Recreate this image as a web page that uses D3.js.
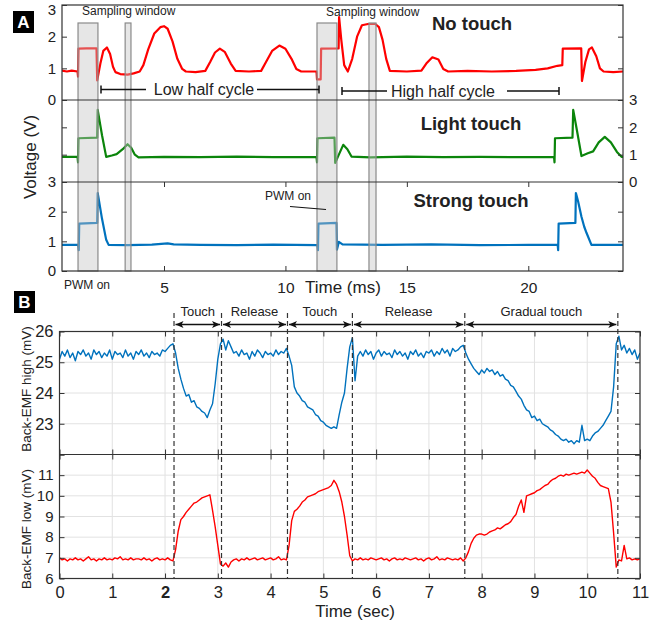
<!DOCTYPE html>
<html><head><meta charset="utf-8">
<script src="https://cdn.jsdelivr.net/npm/d3@7"></script>
<style>
body{margin:0;background:#fff;}
text{font-family:"Liberation Sans",Arial,Helvetica,sans-serif;fill:#222;}
</style></head>
<body><svg id="c" width="668" height="628"></svg>
<script>
// ---------------- DATA ----------------
// Panel A: voltage traces, [time (ms), voltage (V)]
const noTouchTrace = [[0.8,0.93],[1.0,0.9],[1.2,0.93],[1.44,0.9],[1.46,0.74],[1.48,1.62],[1.8,1.63],[2.22,1.63],[2.25,0.62],[2.38,1.15],[2.5,1.55],[2.65,1.66],[2.78,1.45],[2.9,1.05],[3.0,0.88],[3.2,0.82],[3.5,0.8],[3.75,0.84],[4.0,0.9],[4.15,1.1],[4.35,1.6],[4.6,2.1],[4.85,2.3],[5.0,2.33],[5.15,2.25],[5.35,1.85],[5.55,1.3],[5.75,0.98],[5.9,0.9],[6.3,0.88],[6.7,0.92],[6.9,1.2],[7.1,1.5],[7.3,1.62],[7.5,1.52],[7.75,1.15],[7.95,0.92],[8.5,0.9],[9.0,0.92],[9.2,1.2],[9.45,1.55],[9.75,1.72],[10.0,1.62],[10.25,1.3],[10.45,0.98],[10.65,0.9],[11.0,0.9],[11.28,0.9],[11.3,0.65],[11.45,0.65],[11.47,1.62],[12.19,1.63],[12.21,2.62],[12.3,1.9],[12.42,1.1],[12.57,0.9],[12.75,1.3],[12.95,2.0],[13.15,2.36],[13.4,2.4],[13.7,2.4],[13.85,2.3],[14.0,1.9],[14.15,1.3],[14.3,0.92],[15.0,0.9],[15.6,0.93],[15.8,1.15],[16.05,1.35],[16.3,1.28],[16.5,0.98],[16.7,0.9],[17.5,0.92],[18.5,0.9],[19.5,0.92],[20.3,0.95],[20.8,1.0],[21.2,1.08],[21.4,1.1],[21.42,1.62],[22.18,1.63],[22.21,0.6],[22.35,1.2],[22.5,1.6],[22.62,1.66],[22.8,1.38],[22.95,1.0],[23.1,0.9],[23.5,0.88],[23.9,0.9]];
const lightTouchTrace = [[0.8,0.92],[1.44,0.92],[1.46,0.72],[1.48,1.6],[2.25,1.62],[2.27,2.64],[2.45,1.7],[2.62,0.92],[2.85,0.97],[3.05,1.02],[3.3,1.2],[3.5,1.38],[3.65,1.25],[3.8,1.0],[3.95,0.9],[5,0.92],[6.5,0.91],[8,0.93],[9.5,0.91],[11.28,0.92],[11.3,0.72],[11.32,1.6],[12.02,1.62],[12.05,0.7],[12.2,1.0],[12.38,1.36],[12.55,1.2],[12.72,0.93],[13.5,0.9],[15,0.93],[16.5,0.91],[18,0.92],[19.5,0.91],[21.06,0.92],[21.08,0.72],[21.1,1.6],[21.82,1.62],[21.85,2.64],[22.0,1.9],[22.19,0.95],[22.45,1.05],[22.67,1.12],[22.9,1.45],[23.15,1.65],[23.4,1.45],[23.65,1.1],[23.84,0.92],[23.9,0.92]];
const strongTouchTrace = [[0.8,0.88],[1.47,0.88],[1.49,0.7],[1.51,1.6],[2.25,1.62],[2.27,2.63],[2.45,1.75],[2.62,1.05],[2.72,0.88],[3.5,0.87],[4.5,0.89],[5.15,0.93],[5.4,0.9],[6.5,0.88],[8,0.87],[9.5,0.89],[11.32,0.87],[11.34,0.7],[11.36,1.6],[12.1,1.62],[12.12,0.72],[12.2,0.98],[12.35,0.9],[14,0.88],[16,0.9],[18,0.87],[20,0.88],[21.21,0.88],[21.23,0.7],[21.25,1.6],[21.94,1.62],[21.96,2.63],[22.05,2.35],[22.19,1.83],[22.3,1.5],[22.4,1.28],[22.6,0.88],[23.9,0.88]];
const samplingWindows = [[1.46,2.28],[3.40,3.64],[11.30,12.12],[13.44,13.73]];
const msTicks = [5,10,15,20];
const voltTicks = [0,1,2,3];
const touchLabels = ["No touch","Light touch","Strong touch"];

// Panel B: back-EMF traces (mV), sampled every 0.05 s from 0 to 11 s
const sampleStep = 0.05;
const backEmfHigh = [
 25.1,25.35,25.2,25.4,25.15,25.3,25.05,25.35,25.25,25.4,
 25.2,25.3,25.1,25.4,25.25,25.35,25.15,25.3,25.2,25.4,
 25.1,25.35,25.25,25.3,25.15,25.4,25.2,25.3,25.1,25.35,
 25.25,25.4,25.2,25.3,25.15,25.35,25.25,25.3,25.2,25.4,
 25.35,25.45,25.55,25.6,25.3,24.8,24.45,24.15,23.9,23.95,
 23.7,23.75,23.55,23.5,23.4,23.35,23.2,23.45,23.65,24.3,
 25.1,25.6,25.75,25.4,25.7,25.5,25.3,25.35,25.2,25.4,
 25.25,25.3,25.1,25.35,25.2,25.4,25.3,25.15,25.35,25.25,
 25.3,25.2,25.4,25.25,25.35,25.3,25.45,25.2,24.9,24.2,
 24.0,23.9,23.75,23.7,23.55,23.5,23.45,23.3,23.25,23.1,
 23.05,22.95,22.9,22.85,22.9,22.85,23.3,23.7,24.0,24.8,
 25.5,25.8,24.4,25.2,25.35,25.2,25.4,25.25,25.35,25.1,
 25.3,25.4,25.2,25.35,25.25,25.3,25.15,25.4,25.25,25.35,
 25.2,25.3,25.1,25.35,25.25,25.4,25.2,25.3,25.15,25.35,
 25.3,25.4,25.2,25.35,25.25,25.45,25.3,25.4,25.2,25.45,
 25.35,25.4,25.5,25.55,25.3,25.1,24.95,24.8,24.7,24.6,
 24.75,24.65,24.8,24.7,24.75,24.6,24.7,24.55,24.6,24.45,
 24.4,24.25,24.2,24.05,23.9,23.8,23.6,23.45,23.4,23.2,
 23.25,23.1,23.15,23.0,22.95,22.9,22.8,22.75,22.65,22.6,
 22.5,22.45,22.5,22.4,22.45,22.35,22.45,22.4,22.95,22.45,
 22.5,22.45,22.6,22.7,22.75,22.85,22.95,23.1,23.25,23.4,
 24.2,25.6,25.85,25.4,25.55,25.3,25.45,25.25,25.4,25.1,
 25.3];
const backEmfLow = [
 7.0,6.9,6.95,6.85,6.95,6.9,7.0,6.9,6.95,6.85,
 6.95,7.05,6.9,6.95,6.85,6.95,6.9,7.0,6.9,6.95,
 6.9,7.0,6.95,7.05,6.9,6.95,6.9,7.0,6.9,6.95,
 6.95,6.9,7.0,6.9,6.95,6.85,6.95,7.0,6.9,6.95,
 6.9,7.0,6.9,6.85,7.4,8.3,8.85,9.0,9.2,9.35,
 9.5,9.65,9.7,9.8,9.9,9.95,10.0,10.05,9.3,8.5,
 7.6,6.7,6.6,6.75,6.55,6.8,6.9,6.95,6.85,6.95,
 6.9,7.0,6.9,6.95,7.0,6.9,6.95,7.0,6.9,6.95,
 7.0,6.9,6.95,7.05,6.9,6.95,6.9,7.6,8.8,9.25,
 9.35,9.5,9.7,9.8,9.95,10.0,10.05,10.1,10.2,10.25,
 10.3,10.35,10.4,10.5,10.75,10.55,10.2,9.7,9.0,8.1,
 7.1,6.85,6.95,6.9,7.0,6.9,6.95,6.9,7.0,6.95,
 6.9,6.95,7.0,6.9,6.95,6.85,6.95,7.0,6.9,6.95,
 6.9,7.0,6.95,6.9,6.95,7.0,6.9,6.95,6.85,6.95,
 7.0,6.9,6.95,7.05,6.9,6.95,6.9,7.0,6.95,6.9,
 6.95,6.9,7.0,6.85,7.0,7.3,7.7,7.95,8.1,8.15,
 8.15,8.1,8.15,8.25,8.3,8.35,8.45,8.4,8.5,8.6,
 8.65,8.75,8.95,9.1,9.5,9.8,9.2,10.0,10.05,10.1,
 10.15,10.25,10.3,10.4,10.5,10.55,10.7,10.8,10.85,10.95,
 11.0,10.95,11.05,11.0,11.05,11.1,11.05,11.1,11.15,11.1,
 11.25,11.1,10.95,10.85,10.65,10.5,10.45,10.4,10.35,9.7,
 8.2,6.55,6.9,6.85,7.6,6.95,7.0,6.9,6.95,6.9,
 6.95];
const eventTimes = [2.17,3.07,4.32,5.55,7.68,10.58];
const phaseLabels = ["Touch","Release","Touch","Release","Gradual touch"];
const secTicks = [0,1,2,3,4,5,6,7,8,9,10,11];
const highTicks = [22,23,24,25,26];
const lowTicks = [6,7,8,9,10,11,12];

// ---------------- DRAW ----------------
const svg = d3.select('#c');
const AX = '#333';
const defs = svg.append('defs');

function styleAxis(g, size) {
  g.select('.domain').remove();
  g.selectAll('.tick line').attr('stroke', AX).attr('stroke-width', 1);
  g.selectAll('.tick text').attr('fill', '#222').attr('font-size', size)
    .attr('font-family', '"Liberation Sans",Arial,sans-serif');
}

// ===== Panel A =====
const A = {l:62, r:623, t:5, b:271};
const xA = d3.scaleLinear().domain([0.8, 23.9]).range([A.l, A.r]);
const subs = [
  {y: d3.scaleLinear().domain([0,3]).range([100,5]), data: noTouchTrace, color:'#ff0000', leftLab:true, rightLab:false, lab:[472,30]},
  {y: d3.scaleLinear().domain([0,3]).range([182,100]), data: lightTouchTrace, color:'#0b850b', leftLab:false, rightLab:true, lab:[471,130]},
  {y: d3.scaleLinear().domain([0,3]).range([271,182]), data: strongTouchTrace, color:'#0072bd', leftLab:true, rightLab:false, lab:[471,207]},
];
defs.append('clipPath').attr('id','clipA').append('rect')
  .attr('x',A.l).attr('y',A.t).attr('width',A.r-A.l).attr('height',A.b-A.t);

subs.forEach((s,i) => {
  const line = d3.line().x(d=>xA(d[0])).y(d=>s.y(d[1]));
  svg.append('path').datum(s.data).attr('d', line).attr('fill','none')
    .attr('stroke', s.color).attr('stroke-width', 2.2).attr('stroke-linejoin','round')
    .attr('clip-path','url(#clipA)');
  const gl = svg.append('g').attr('transform',`translate(${A.l},0)`)
    .call(d3.axisLeft(s.y).tickValues(voltTicks).tickSize(-5).tickPadding(6)
      .tickFormat(d => s.leftLab ? d : ''));
  styleAxis(gl, 15);
  const gr = svg.append('g').attr('transform',`translate(${A.r},0)`)
    .call(d3.axisRight(s.y).tickValues(voltTicks).tickSize(-5).tickPadding(6)
      .tickFormat(d => s.rightLab ? d : ''));
  styleAxis(gr, 15);
  if (i === 0) gl.selectAll('.tick text').filter(d => d === 3).attr('dy', '0.62em');
  svg.append('text').attr('x', s.lab[0]).attr('y', s.lab[1]).attr('text-anchor','middle')
    .attr('font-size', 18.5).attr('font-weight','bold').attr('fill','#111').text(touchLabels[i]);
});

const gxa1 = svg.append('g').attr('transform',`translate(0,${A.b})`)
  .call(d3.axisBottom(xA).tickValues(msTicks).tickSize(-5).tickPadding(11));
styleAxis(gxa1, 15.5);
const gxa2 = svg.append('g').attr('transform',`translate(0,182)`)
  .call(d3.axisTop(xA).tickValues(msTicks).tickSize(-5).tickFormat(''));
styleAxis(gxa2, 15);

svg.append('g').selectAll('rect').data(samplingWindows).join('rect')
  .attr('x', d=>xA(d[0])).attr('y', 23).attr('width', d=>xA(d[1])-xA(d[0])).attr('height', A.b-23)
  .attr('fill','#c4c4c4').attr('fill-opacity',0.42).attr('stroke','#8a8a8a').attr('stroke-width',1.2);

svg.append('rect').attr('x',A.l).attr('y',A.t).attr('width',A.r-A.l).attr('height',A.b-A.t)
  .attr('fill','none').attr('stroke',AX).attr('stroke-width',1.2);
[100,182].forEach(y => svg.append('line').attr('x1',A.l).attr('x2',A.r).attr('y1',y).attr('y2',y)
  .attr('stroke',AX).attr('stroke-width',1.2));

svg.append('text').attr('x',82).attr('y',15).attr('font-size',12).text('Sampling window');
svg.append('text').attr('x',326).attr('y',16).attr('font-size',12).text('Sampling window');
svg.append('text').attr('x',204).attr('y',95).attr('text-anchor','middle').attr('font-size',16).text('Low half cycle');
svg.append('text').attr('x',443).attr('y',97).attr('text-anchor','middle').attr('font-size',16).text('High half cycle');
function bracket(x1, x2, y) {
  const g = svg.append('g').attr('stroke','#111').attr('stroke-width',1.5);
  g.append('line').attr('x1',x1).attr('x2',x2).attr('y1',y).attr('y2',y);
  g.append('line').attr('x1',x1).attr('x2',x1).attr('y1',y-4).attr('y2',y+4);
}
bracket(101,146,89.5); bracket(319,257,89.5);
bracket(342,387,91); bracket(559,507,91);
svg.append('text').attr('x',265).attr('y',200).attr('font-size',12).text('PWM on');
svg.append('line').attr('x1',290).attr('y1',206.5).attr('x2',326).attr('y2',209.5).attr('stroke','#111').attr('stroke-width',1.2);
svg.append('text').attr('x',64).attr('y',289).attr('font-size',12).text('PWM on');
svg.append('text').attr('x',305).attr('y',293).attr('font-size',17).text('Time (ms)');
svg.append('text').attr('transform','translate(36,157) rotate(-90)').attr('text-anchor','middle')
  .attr('font-size',17).text('Voltage (V)');

function letter(x,y,t){
  svg.append('rect').attr('x',x).attr('y',y).attr('width',21).attr('height',22).attr('fill','#000');
  svg.append('text').attr('x',x+10.5).attr('y',y+17).attr('text-anchor','middle').attr('font-size',17)
    .attr('font-weight','bold').style('fill','#fff').text(t);
}
letter(13,11,'A'); letter(14,291,'B');

// ===== Panel B =====
const B = {l:59.5, r:640, t:331.5, m:454.5, b:578.5};
const xB = d3.scaleLinear().domain([0,11]).range([B.l, B.r]);
const yH = d3.scaleLinear().domain([22,26]).range([B.m, B.t]);
const yL = d3.scaleLinear().domain([6,12]).range([B.b, B.m]);

function grid(y, ticks, top, bot) {
  const g = svg.append('g').attr('stroke','#e2e2e2').attr('stroke-width',1);
  g.selectAll('.v').data(secTicks).join('line').attr('x1',d=>xB(d)).attr('x2',d=>xB(d)).attr('y1',top).attr('y2',bot);
  g.selectAll('.h').data(ticks).join('line').attr('x1',B.l).attr('x2',B.r).attr('y1',d=>y(d)).attr('y2',d=>y(d));
}
grid(yH, highTicks, B.t, B.m);
grid(yL, lowTicks, B.m, B.b);

defs.append('clipPath').attr('id','clipH').append('rect').attr('x',B.l).attr('y',B.t).attr('width',B.r-B.l).attr('height',B.m-B.t);
defs.append('clipPath').attr('id','clipL').append('rect').attr('x',B.l).attr('y',B.m).attr('width',B.r-B.l).attr('height',B.b-B.m);

const lineH = d3.line().x((d,i)=>xB(i*sampleStep)).y(d=>yH(d));
const lineL = d3.line().x((d,i)=>xB(i*sampleStep)).y(d=>yL(d));
svg.append('path').datum(backEmfHigh).attr('d',lineH).attr('fill','none').attr('stroke','#0072bd')
  .attr('stroke-width',1.4).attr('stroke-linejoin','round').attr('clip-path','url(#clipH)');
svg.append('path').datum(backEmfLow).attr('d',lineL).attr('fill','none').attr('stroke','#ff0000')
  .attr('stroke-width',1.4).attr('stroke-linejoin','round').attr('clip-path','url(#clipL)');

const gyh = svg.append('g').attr('transform',`translate(${B.l},0)`)
  .call(d3.axisLeft(yH).tickValues(highTicks).tickSize(-5).tickPadding(6).tickFormat(d=>d===22?'':d));
styleAxis(gyh, 16.5);
const gyh2 = svg.append('g').attr('transform',`translate(${B.r},0)`)
  .call(d3.axisRight(yH).tickValues(highTicks).tickSize(-5).tickFormat(''));
styleAxis(gyh2, 15);
const gyl = svg.append('g').attr('transform',`translate(${B.l},0)`)
  .call(d3.axisLeft(yL).tickValues(lowTicks).tickSize(-5).tickPadding(6).tickFormat(d=>d===12?'':d));
styleAxis(gyl, 15);
const gyl2 = svg.append('g').attr('transform',`translate(${B.r},0)`)
  .call(d3.axisRight(yL).tickValues(lowTicks).tickSize(-5).tickFormat(''));
styleAxis(gyl2, 15);
[[d3.axisTop, B.t],[d3.axisBottom, B.m],[d3.axisTop, B.m]].forEach(([ax, y]) => {
  const g = svg.append('g').attr('transform',`translate(0,${y})`)
    .call(ax(xB).tickValues(secTicks).tickSize(-5).tickFormat(''));
  styleAxis(g, 15);
});
const gxb = svg.append('g').attr('transform',`translate(0,${B.b})`)
  .call(d3.axisBottom(xB).tickValues(secTicks).tickSize(-5).tickPadding(8));
styleAxis(gxb, 16.5);
gxb.selectAll('.tick text').filter(d=>d===2).attr('font-weight','bold').attr('fill','#000');

svg.append('rect').attr('x',B.l).attr('y',B.t).attr('width',B.r-B.l).attr('height',B.b-B.t)
  .attr('fill','none').attr('stroke',AX).attr('stroke-width',1.2);
svg.append('line').attr('x1',B.l).attr('x2',B.r).attr('y1',B.m).attr('y2',B.m).attr('stroke',AX).attr('stroke-width',1.2);

svg.append('g').selectAll('line').data(eventTimes).join('line')
  .attr('x1',d=>xB(d)).attr('x2',d=>xB(d)).attr('y1',313).attr('y2',B.b)
  .attr('stroke','#333').attr('stroke-width',1.2).attr('stroke-dasharray','5,3');

function head(x, y, dir) {
  return `M${x},${y} L${x-dir*8},${y-3.6} L${x-dir*6},${y} L${x-dir*8},${y+3.6} Z`;
}
const ay = 324.5;
phaseLabels.forEach((lab, i) => {
  const x1 = xB(eventTimes[i]) + 1.5, x2 = xB(eventTimes[i+1]) - 1.5;
  svg.append('line').attr('x1',x1).attr('x2',x2).attr('y1',ay).attr('y2',ay).attr('stroke','#111').attr('stroke-width',1.3);
  svg.append('path').attr('d', head(x1, ay, -1)).attr('fill','#111');
  svg.append('path').attr('d', head(x2, ay, 1)).attr('fill','#111');
  svg.append('text').attr('x',(x1+x2)/2).attr('y',316).attr('text-anchor','middle').attr('font-size',13).text(lab);
});

svg.append('text').attr('x',355).attr('y',617).attr('text-anchor','middle').attr('font-size',17).text('Time (sec)');
svg.append('text').attr('transform','translate(31,389) rotate(-90)').attr('text-anchor','middle')
  .attr('font-size',13.5).text('Back-EMF high (mV)');
svg.append('text').attr('transform','translate(31,529) rotate(-90)').attr('text-anchor','middle')
  .attr('font-size',13.5).text('Back-EMF low (mV)');
</script>
</body></html>
